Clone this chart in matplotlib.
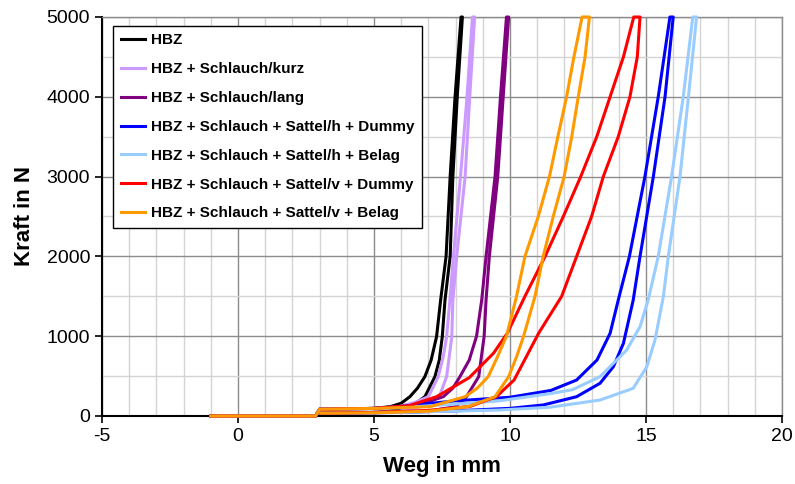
import matplotlib
matplotlib.use("Agg")
import matplotlib.pyplot as plt
from matplotlib.ticker import MultipleLocator

plt.rcParams['font.family'] = ['Liberation Sans', 'DejaVu Sans']
plt.rcParams['axes.unicode_minus'] = False

# common start segment (travel before pressure build-up) and return end
start_x = [-1.0, 2.85, 3.0]
start_f = [0, 0, 85]
end_x = [3.05]
end_f = [35]

labels = ["HBZ", "HBZ + Schlauch/kurz", "HBZ + Schlauch/lang",
          "HBZ + Schlauch + Sattel/h + Dummy", "HBZ + Schlauch + Sattel/h + Belag",
          "HBZ + Schlauch + Sattel/v + Dummy", "HBZ + Schlauch + Sattel/v + Belag"]
colors = ["#000000", "#CC99FF", "#800080", "#0000FF", "#99CCFF", "#FF0000", "#FF9900"]

# HBZ
hbz_load_x = [5.0, 5.6, 6.0, 6.32, 6.6, 6.87, 7.1, 7.3, 7.45, 7.65, 7.8, 7.98, 8.2]
hbz_load_f = [95, 117, 160, 242, 350, 493, 700, 994, 1453, 2000, 3000, 4000, 5000]
hbz_unload_x = [8.25, 8.06, 7.9, 7.8, 7.61, 7.51, 7.4, 7.24, 6.87, 6.5, 6.2, 5.5, 5.0]
hbz_unload_f = [5000, 4000, 3000, 2000, 1453, 994, 700, 493, 242, 150, 117, 60, 45]

# HBZ + Schlauch/kurz
kurz_load_x = [5.0, 5.9, 6.5, 7.0, 7.36, 7.55, 7.67, 7.79, 7.92, 8.18, 8.42, 8.62]
kurz_load_f = [95, 117, 170, 242, 493, 750, 994, 1453, 2000, 3000, 4000, 5000]
kurz_unload_x = [8.7, 8.52, 8.35, 8.04, 7.9, 7.86, 7.67, 7.4, 6.9, 6.0, 5.0]
kurz_unload_f = [5000, 4000, 3000, 2000, 1453, 994, 493, 242, 130, 60, 45]

# HBZ + Schlauch/lang
lang_load_x = [5.0, 6.2, 7.0, 7.55, 7.9, 8.16, 8.5, 8.77, 8.96, 9.12, 9.45, 9.65, 9.87]
lang_load_f = [95, 117, 180, 242, 350, 493, 700, 1000, 1453, 2000, 3000, 4000, 5000]
lang_unload_x = [9.95, 9.75, 9.55, 9.24, 9.12, 9.05, 8.85, 8.4, 8.0, 7.0, 5.0]
lang_unload_f = [5000, 4000, 3000, 2000, 1453, 1000, 493, 242, 117, 60, 40]

# HBZ + Schlauch + Sattel/h + Dummy
hd_load_x = [5.0, 6.0, 8.0, 10.0, 11.5, 12.45, 13.2, 13.68, 13.98, 14.39, 14.96, 15.45, 15.88]
hd_load_f = [95, 120, 190, 235, 320, 451, 702, 1036, 1453, 2000, 3000, 4000, 5000]
hd_unload_x = [16.0, 15.7, 15.27, 14.78, 14.53, 14.17, 13.8, 13.31, 12.45, 11.22, 10.0, 8.0, 6.0]
hd_unload_f = [5000, 4000, 3000, 2000, 1453, 911, 618, 410, 242, 138, 96, 65, 45]

# HBZ + Schlauch + Sattel/h + Belag
hb_load_x = [5.0, 6.0, 8.0, 9.6, 11.47, 12.3, 13.31, 14.29, 14.78, 15.08, 15.45, 15.94, 16.37, 16.72]
hb_load_f = [90, 105, 150, 190, 280, 330, 493, 827, 1119, 1453, 2000, 3000, 4000, 5000]
hb_unload_x = [16.86, 16.56, 16.25, 15.82, 15.64, 15.33, 15.03, 14.53, 13.31, 11.47, 9.6, 6.0]
hb_unload_f = [5000, 4000, 3000, 2000, 1500, 952, 618, 347, 200, 110, 75, 45]

# HBZ + Schlauch + Sattel/v + Dummy
vd_load_x = [5.0, 6.3, 7.3, 8.5, 9.39, 9.9, 10.55, 11.29, 11.96, 12.6, 13.19, 13.68, 14.17, 14.55]
vd_load_f = [95, 130, 242, 480, 785, 1036, 1500, 2000, 2500, 3000, 3500, 4000, 4500, 5000]
vd_unload_x = [14.78, 14.68, 14.41, 13.98, 13.43, 13.0, 12.45, 11.9, 11.05, 10.6, 10.15, 9.5, 8.53, 7.0, 5.0]
vd_unload_f = [5000, 4500, 4000, 3500, 3000, 2500, 2000, 1500, 1036, 743, 451, 242, 120, 70, 45]

# HBZ + Schlauch + Sattel/v + Belag
vb_load_x = [5.0, 7.06, 8.35, 8.8, 9.2, 9.55, 9.87, 10.24, 10.55, 11.04, 11.45, 11.76, 12.08, 12.35, 12.65]
vb_load_f = [95, 117, 242, 350, 493, 750, 1000, 1500, 2000, 2500, 3000, 3500, 4000, 4500, 5000]
vb_unload_x = [12.92, 12.76, 12.51, 12.27, 11.99, 11.59, 11.22, 10.92, 10.5, 10.25, 9.95, 9.45, 8.45, 7.0, 5.0]
vb_unload_f = [5000, 4500, 4000, 3500, 3000, 2500, 2000, 1500, 1000, 750, 493, 242, 117, 60, 40]

series = [
    (hbz_load_x, hbz_load_f, hbz_unload_x, hbz_unload_f),
    (kurz_load_x, kurz_load_f, kurz_unload_x, kurz_unload_f),
    (lang_load_x, lang_load_f, lang_unload_x, lang_unload_f),
    (hd_load_x, hd_load_f, hd_unload_x, hd_unload_f),
    (hb_load_x, hb_load_f, hb_unload_x, hb_unload_f),
    (vd_load_x, vd_load_f, vd_unload_x, vd_unload_f),
    (vb_load_x, vb_load_f, vb_unload_x, vb_unload_f),
]

fig = plt.figure(figsize=(7.95, 4.84), dpi=100)
ax = fig.add_axes([102/795, 1-416/484, 680/795, 399/484])

for (lx, lf, ux, uf), lab, c in zip(series, labels, colors):
    xs = start_x + lx + ux + end_x
    fs = start_f + lf + uf + end_f
    ax.plot(xs, fs, color=c, lw=2.2, label=lab, solid_joinstyle='round',
            zorder=3, clip_on=False)

ax.set_xlim(-5, 20)
ax.set_ylim(0, 5000)
ax.xaxis.set_major_locator(MultipleLocator(5))
ax.xaxis.set_minor_locator(MultipleLocator(1))
ax.yaxis.set_major_locator(MultipleLocator(1000))
ax.yaxis.set_minor_locator(MultipleLocator(500))
ax.grid(which='major', color='#8c8c8c', lw=1.0, zorder=0)
ax.grid(which='minor', color='#d4d4d4', lw=1.0, zorder=0)
ax.set_axisbelow(True)

ax.tick_params(which='minor', length=0)
ax.tick_params(which='major', direction='out', length=5, width=1.2, labelsize=14, colors='black')
for s in ['top', 'right']:
    ax.spines[s].set_color('#8c8c8c')
    ax.spines[s].set_linewidth(1.0)
for s in ['left', 'bottom']:
    ax.spines[s].set_color('black')
    ax.spines[s].set_linewidth(1.5)
    ax.spines[s].set_zorder(2.5)

ax.set_xlabel("Weg in mm", fontsize=16, fontweight='bold', labelpad=8)
ax.set_ylabel("Kraft in N", fontsize=16, fontweight='bold', labelpad=8)

leg = ax.legend(loc='upper left', bbox_to_anchor=(0.016, 0.978),
                prop={'weight': 'bold', 'size': 11}, frameon=True, fancybox=False,
                handlelength=1.6, handletextpad=0.4, labelspacing=0.97,
                borderpad=0.5, borderaxespad=0.0)
leg.get_frame().set_edgecolor('black')
leg.get_frame().set_linewidth(1.0)
leg.get_frame().set_alpha(1.0)
leg.set_zorder(5)

fig.savefig("out.png", dpi=100)
